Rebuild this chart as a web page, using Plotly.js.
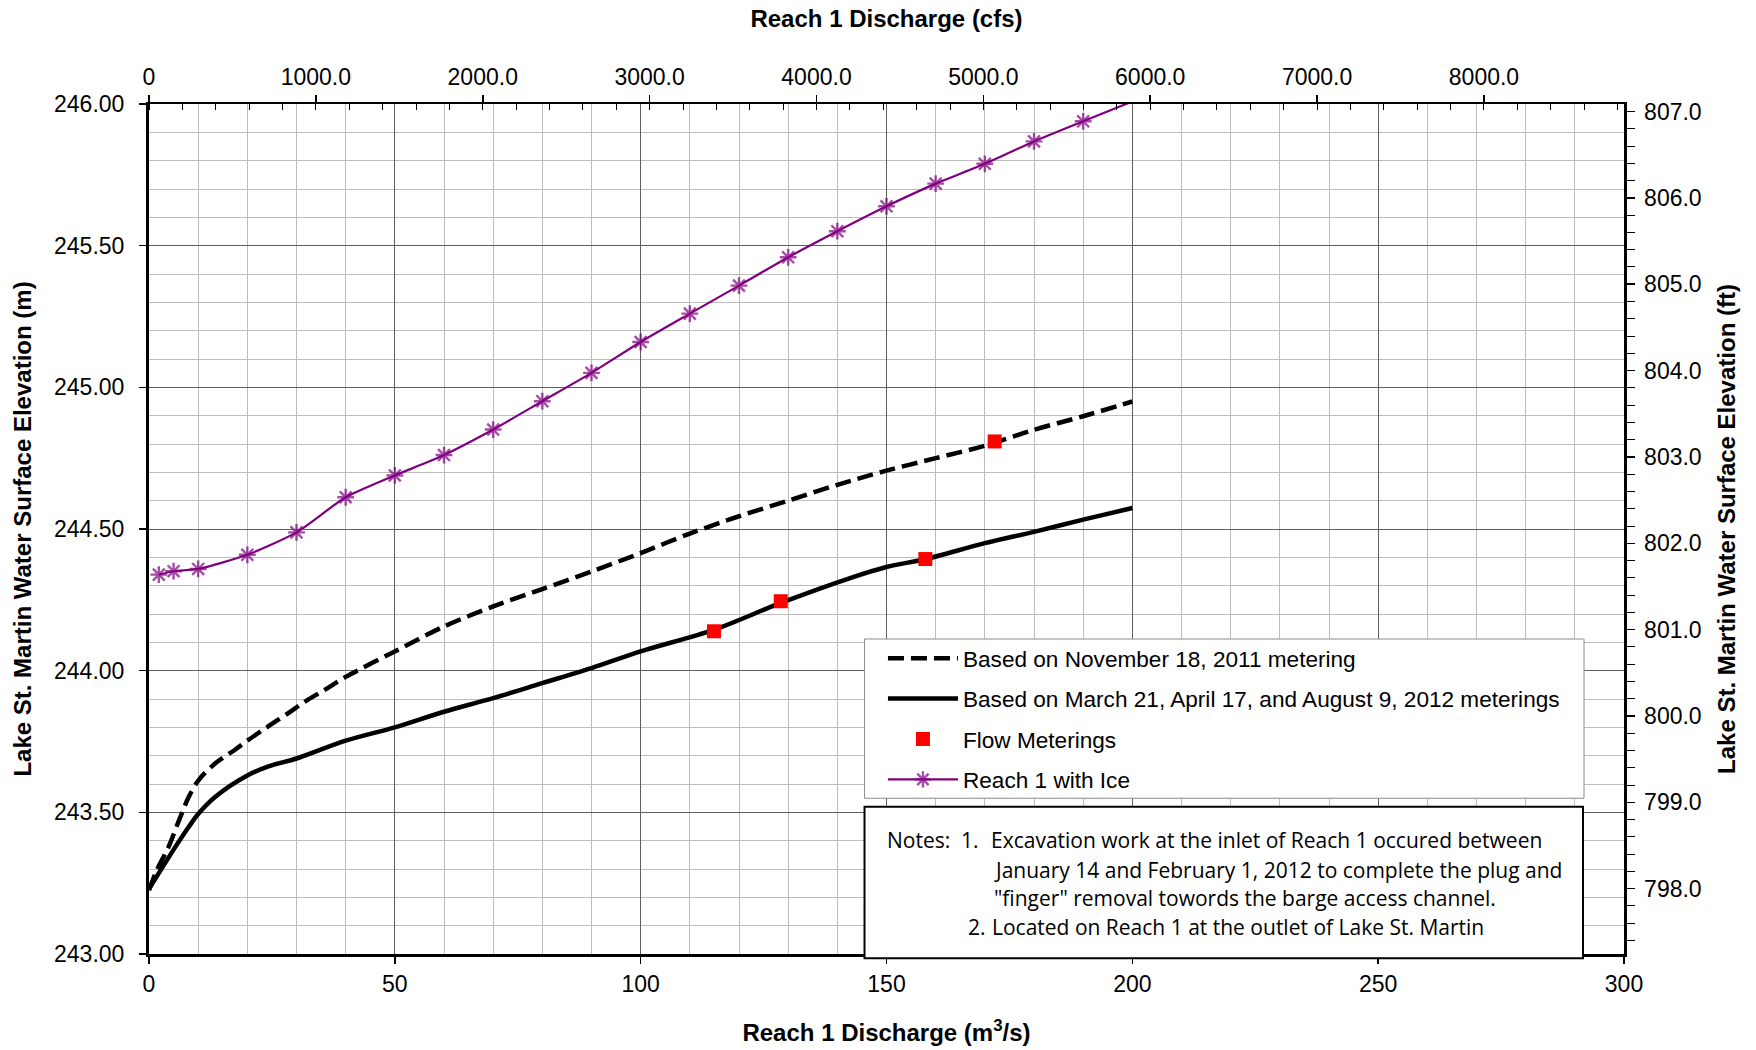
<!DOCTYPE html>
<html>
<head>
<meta charset="utf-8">
<script src="https://cdn.plot.ly/plotly-3.0.1.min.js"></script>
<style>html,body{margin:0;padding:0;background:#fff;}#chart{width:1756px;height:1050px;}</style>
</head>
<body>
<div id="chart"></div>
<script>
// ---- data (discharge in m3/s, elevation in m) ----
const qNov2011 = [0, 1.6, 4.0, 6.0, 8.1, 10.1, 13.5, 17.5, 20, 24.3, 28.4, 31.8, 35.8, 40, 50, 60, 70, 80, 90, 100, 110, 120, 130, 140, 150, 160, 170, 180, 190, 200];
const zNov2011 = [243.225, 243.296, 243.379, 243.467, 243.555, 243.614, 243.673, 243.721, 243.753, 243.804, 243.851, 243.892, 243.933, 243.978, 244.068, 244.156, 244.227, 244.288, 244.35, 244.415, 244.484, 244.545, 244.60, 244.656, 244.706, 244.75, 244.794, 244.85, 244.898, 244.95];

const q2012 = [0, 2.6, 5.4, 8.1, 10, 13.5, 20, 24.3, 30, 40, 50, 60, 70, 80, 90, 100, 115, 128.5, 142.6, 150, 158, 170, 180, 190, 200];
const z2012 = [243.23, 243.302, 243.379, 243.449, 243.494, 243.555, 243.63, 243.662, 243.69, 243.753, 243.80, 243.855, 243.903, 243.956, 244.009, 244.068, 244.145, 244.239, 244.327, 244.366, 244.394, 244.45, 244.49, 244.533, 244.574];

const qMeter = [114.9, 128.5, 157.9, 172.0];
const zMeter = [244.139, 244.245, 244.394, 244.809];

const qIce = [2, 5, 10, 20, 30, 40, 50, 60, 70, 80, 90, 100, 110, 120, 130, 140, 150, 160, 170, 180, 190, 200];
const zIce = [244.339, 244.351, 244.359, 244.409, 244.488, 244.612, 244.689, 244.761, 244.851, 244.951, 245.051, 245.16, 245.26, 245.359, 245.459, 245.551, 245.639, 245.719, 245.789, 245.868, 245.939, 246.009];

const seriesNames = [
  'Based on November 18, 2011 metering',
  'Based on March 21, April 17, and August 9, 2012 meterings',
  'Flow Meterings',
  'Reach 1 with Ice'
];

const cfsTicks = [0, 1000, 2000, 3000, 4000, 5000, 6000, 7000, 8000];
const cfsTickText = ['0', '1000.0', '2000.0', '3000.0', '4000.0', '5000.0', '6000.0', '7000.0', '8000.0'];
const cfsMax = 8839;
const ftTicks = [798, 799, 800, 801, 802, 803, 804, 805, 806, 807];
const yMin = 243, yMax = 246;
const M_PER_FT = 0.3048;

const noteLines = [
  {t: 'Notes:', x: 0.4988, y: 0.1341},
  {t: '1.', x: 0.5489, y: 0.1341},
  {t: 'Excavation work at the inlet of Reach 1 occured between', x: 0.5693, y: 0.1341},
  {t: 'January 14 and February 1, 2012 to complete the plug and', x: 0.5715, y: 0.0988},
  {t: '"finger" removal towords the barge access channel.', x: 0.5715, y: 0.0659},
  {t: '2.', x: 0.5536, y: 0.0318},
  {t: 'Located on Reach 1 at the outlet of Lake St. Martin', x: 0.5702, y: 0.0318}
];

// ---- traces ----
const FONT = 'Liberation Sans, Arial, sans-serif';
const traces = [
  {x: qNov2011, y: zNov2011, name: seriesNames[0], mode: 'lines', legendgroup: 'a',
   line: {color: '#000', width: 4.5, dash: '16px,7px', shape: 'spline', smoothing: 0.9}},
  {x: q2012, y: z2012, name: seriesNames[1], mode: 'lines', legendgroup: 'b',
   line: {color: '#000', width: 4.5, shape: 'spline', smoothing: 0.9}},
  {x: qMeter, y: zMeter, name: seriesNames[2], mode: 'markers', legendgroup: 'c',
   marker: {symbol: 'square', color: '#ff0000', size: 14}},
  {x: qIce, y: zIce, name: seriesNames[3], mode: 'lines+markers', legendgroup: 'd',
   line: {color: '#800080', width: 2.2, shape: 'spline', smoothing: 0.6},
   marker: {symbol: 'asterisk-open', size: qIce.map((_, i) => i === qIce.length - 1 ? 0 : 14),
            line: {color: '#800080', width: 2.4}, color: '#800080'}},
  // carrier for the secondary axes
  {x: [], y: [], xaxis: 'x2', yaxis: 'y2', showlegend: false, hoverinfo: 'skip', mode: 'lines'}
];

const annotations = noteLines.map(n => ({
  text: n.t, xref: 'paper', yref: 'paper', x: n.x, y: n.y,
  xanchor: 'left', yanchor: 'middle', showarrow: false,
  font: {family: 'Open Sans, Noto Sans, sans-serif', size: 21, color: '#000'}
}));

const layout = {
  width: 1756, height: 1050,
  margin: {l: 149, r: 132, t: 104, b: 96, pad: 0},
  paper_bgcolor: '#fff', plot_bgcolor: '#fff',
  font: {family: FONT, color: '#000', size: 23},
  showlegend: true,
  legend: {
    x: 0.4976, y: 0.3729, xanchor: 'left', yanchor: 'top',
    bgcolor: 'rgba(0,0,0,0)', borderwidth: 0,
    font: {family: FONT, size: 22.6, color: '#000'},
    itemwidth: 70, tracegroupgap: 8, traceorder: 'grouped'
  },
  xaxis: {
    range: [0, 300], dtick: 50, tick0: 0,
    showline: true, linecolor: '#000', linewidth: 3,
    ticks: 'outside', ticklen: 7, tickwidth: 1.5, tickcolor: '#000',
    ticklabelstandoff: 0,
    showgrid: true, gridcolor: '#5f5f5f', gridwidth: 1,
    minor: {dtick: 10, tick0: 0, showgrid: true, gridcolor: '#bdbdbd', gridwidth: 1, ticks: ''},
    zeroline: false,
    tickfont: {family: FONT, size: 23, color: '#000'},
    title: {text: 'Reach 1 Discharge (m<sup>3</sup>/s)', standoff: 29,
            font: {family: FONT, size: 24, color: '#000', weight: 'bold'}}
  },
  yaxis: {
    range: [yMin, yMax], dtick: 0.5, tick0: 243, tickformat: '.2f',
    showline: true, linecolor: '#000', linewidth: 3,
    ticks: 'outside', ticklen: 7, tickwidth: 1.5, tickcolor: '#000',
    ticklabelstandoff: 10,
    showgrid: true, gridcolor: '#5f5f5f', gridwidth: 1,
    minor: {dtick: 0.1, tick0: 243, showgrid: true, gridcolor: '#bdbdbd', gridwidth: 1, ticks: ''},
    zeroline: false,
    tickfont: {family: FONT, size: 23, color: '#000'},
    title: {text: 'Lake St. Martin Water Surface Elevation (m)', standoff: 16,
            font: {family: FONT, size: 24, color: '#000', weight: 'bold'}}
  },
  xaxis2: {
    overlaying: 'x', side: 'top', anchor: 'y2',
    range: [0, cfsMax], tickmode: 'array', tickvals: cfsTicks, ticktext: cfsTickText,
    showline: true, linecolor: '#000', linewidth: 2.5,
    ticks: 'outside', ticklen: 7, tickwidth: 1.5, tickcolor: '#000',
    ticklabelstandoff: 0,
    minor: {dtick: 200, tick0: 0, ticks: 'inside', ticklen: 6, tickwidth: 1, tickcolor: '#000', showgrid: false},
    showgrid: false, zeroline: false,
    tickfont: {family: FONT, size: 23, color: '#000'},
    title: {text: 'Reach 1 Discharge (cfs)', standoff: 30,
            font: {family: FONT, size: 24, color: '#000', weight: 'bold'}}
  },
  yaxis2: {
    overlaying: 'y', side: 'right', anchor: 'x2',
    range: [yMin / M_PER_FT, yMax / M_PER_FT],
    tickmode: 'array', tickvals: ftTicks, tickformat: '.1f',
    showline: true, linecolor: '#000', linewidth: 2.5,
    ticks: 'outside', ticklen: 8, tickwidth: 1.5, tickcolor: '#000',
    ticklabelstandoff: 5,
    minor: {dtick: 0.2, tick0: 798, ticks: 'outside', ticklen: 8, tickwidth: 1, tickcolor: '#000', showgrid: false},
    showgrid: false, zeroline: false,
    tickfont: {family: FONT, size: 23, color: '#000'},
    title: {text: 'Lake St. Martin Water Surface Elevation (ft)', standoff: 18,
            font: {family: FONT, size: 24, color: '#000', weight: 'bold'}}
  },
  shapes: [
    {type: 'rect', xref: 'paper', yref: 'paper', x0: 0.4851, x1: 0.9729, y0: 0.1832, y1: 0.3706,
     fillcolor: '#fff', line: {color: '#8c8c8c', width: 1}, layer: 'above'},
    {type: 'rect', xref: 'paper', yref: 'paper', x0: 0.4851, x1: 0.9722, y0: -0.0051, y1: 0.1733,
     fillcolor: '#fff', line: {color: '#000', width: 2}, layer: 'above'}
  ],
  annotations: annotations
};

Plotly.newPlot('chart', traces, layout, {staticPlot: true, displayModeBar: false});
</script>
</body>
</html>
